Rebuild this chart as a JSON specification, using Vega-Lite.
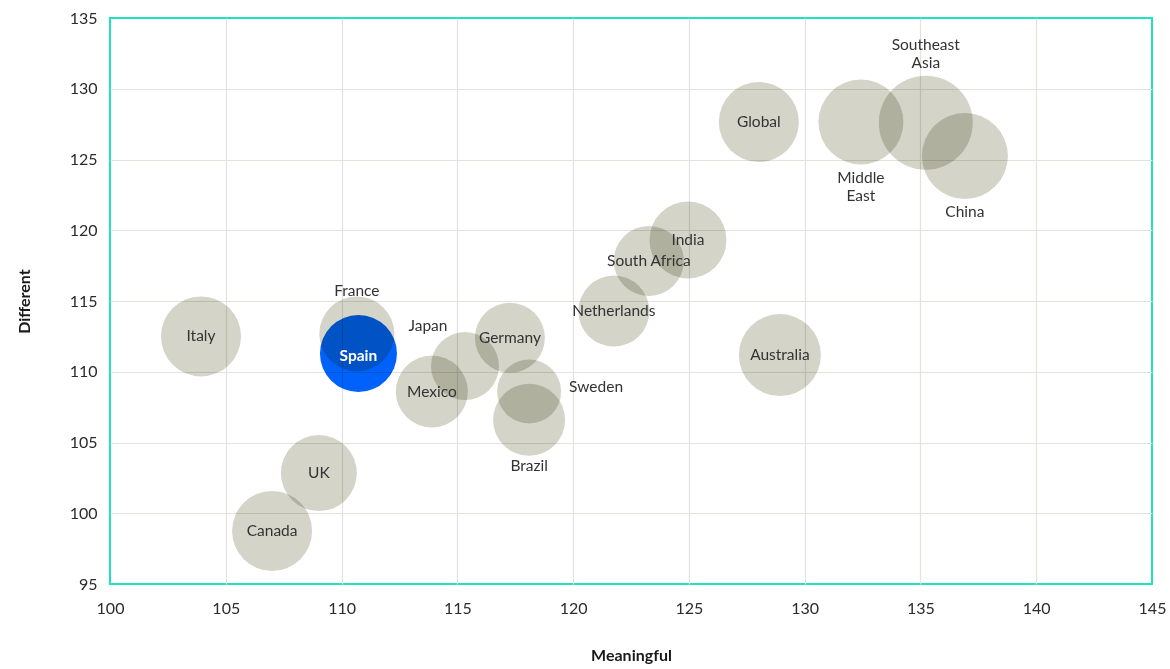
{
  "$schema": "https://vega.github.io/schema/vega-lite/v6.json",
  "width": 1042,
  "height": 566,
  "autosize": {"type": "none"},
  "padding": {"left": 110, "top": 18, "right": 18, "bottom": 85},
  "background": "white",
  "config": {
    "view": {"stroke": "#1fe3bd", "strokeWidth": 2},
    "font": "Lato",
    "axis": {
      "grid": true,
      "gridColor": "#e3e3db",
      "gridWidth": 1.2,
      "domain": false,
      "ticks": false,
      "labelFlush": false,
      "labelFont": "Lato",
      "labelFontSize": 16,
      "labelColor": "#2b2b2b",
      "titleFont": "Lato",
      "titleFontSize": 16,
      "titleFontWeight": "bold",
      "titleColor": "#1a1a1a"
    }
  },
  "data": {
    "values": [
      {"Country": "Italy", "Meaningful": 103.93, "Different": 112.5, "Bubble": 80},
      {"Country": "France", "Meaningful": 110.66, "Different": 112.67, "Bubble": 75},
      {"Country": "Spain", "Meaningful": 110.73, "Different": 111.29, "Bubble": 77},
      {"Country": "Japan", "Meaningful": 115.33, "Different": 110.4, "Bubble": 68},
      {"Country": "Germany", "Meaningful": 117.27, "Different": 112.4, "Bubble": 70},
      {"Country": "Mexico", "Meaningful": 113.9, "Different": 108.6, "Bubble": 72},
      {"Country": "Sweden", "Meaningful": 118.1, "Different": 108.6, "Bubble": 64},
      {"Country": "Brazil", "Meaningful": 118.1, "Different": 106.6, "Bubble": 72},
      {"Country": "UK", "Meaningful": 109.02, "Different": 102.84, "Bubble": 76},
      {"Country": "Canada", "Meaningful": 107.0, "Different": 98.75, "Bubble": 80},
      {"Country": "Global", "Meaningful": 128.02, "Different": 127.65, "Bubble": 80},
      {"Country": "Middle East", "Meaningful": 132.43, "Different": 127.65, "Bubble": 85},
      {"Country": "Southeast Asia", "Meaningful": 135.23, "Different": 127.6, "Bubble": 94},
      {"Country": "China", "Meaningful": 136.92, "Different": 125.25, "Bubble": 86},
      {"Country": "India", "Meaningful": 124.96, "Different": 119.31, "Bubble": 77},
      {"Country": "South Africa", "Meaningful": 123.27, "Different": 117.83, "Bubble": 70},
      {"Country": "Netherlands", "Meaningful": 121.76, "Different": 114.29, "Bubble": 71},
      {"Country": "Australia", "Meaningful": 128.93, "Different": 111.18, "Bubble": 82}
    ]
  },
  "encoding": {
    "x": {
      "field": "Meaningful", "type": "quantitative",
      "scale": {"domain": [100, 145], "nice": false, "zero": false},
      "axis": {
        "values": [100, 105, 110, 115, 120, 125, 130, 135, 140, 145],
        "labelPadding": 16, "titlePadding": 31,
        "gridOpacity": {"condition": {"test": "datum.value === 100 || datum.value === 145", "value": 0}, "value": 1}
      }
    },
    "y": {
      "field": "Different", "type": "quantitative",
      "scale": {"domain": [95, 135], "nice": false, "zero": false},
      "axis": {
        "values": [95, 100, 105, 110, 115, 120, 125, 130, 135],
        "labelPadding": 13, "titlePadding": 37,
        "gridOpacity": {"condition": {"test": "datum.value === 95 || datum.value === 135", "value": 0}, "value": 1}
      }
    }
  },
  "layer": [
    {
      "mark": {"type": "circle", "opacity": 1, "blend": "multiply"},
      "encoding": {
        "size": {"field": "Bubble", "type": "quantitative", "scale": {"type": "pow", "exponent": 2, "domain": [0, 100], "range": [0, 10000]}, "legend": null},
        "color": {
          "condition": {"test": "datum.Country === 'Spain'", "value": "#0062fa"},
          "value": "#d4d4c9"
        }
      }
    },
    {
      "transform": [{"filter": {"field": "Country", "oneOf": ["Italy", "Global", "India", "South Africa", "Netherlands", "Germany", "Mexico", "UK", "Canada", "Australia"]}}],
      "mark": {"type": "text", "fontSize": 15.5, "color": "#333333", "align": "center", "baseline": "middle"},
      "encoding": {"text": {"field": "Country"}}
    },
    {
      "transform": [{"filter": {"field": "Country", "equal": "Spain"}}],
      "mark": {"type": "text", "fontSize": 15.5, "fontWeight": "bold", "color": "white", "align": "center", "baseline": "middle", "dy": 3},
      "encoding": {"text": {"field": "Country"}}
    },
    {
      "transform": [{"filter": {"field": "Country", "equal": "France"}}],
      "mark": {"type": "text", "fontSize": 15.5, "color": "#333333", "align": "center", "baseline": "middle", "dy": -43},
      "encoding": {"text": {"field": "Country"}}
    },
    {
      "transform": [{"filter": {"field": "Country", "equal": "Southeast Asia"}}],
      "mark": {"type": "text", "fontSize": 15.5, "color": "#333333", "align": "center", "baseline": "middle", "dy": -78, "lineBreak": " ", "lineHeight": 18},
      "encoding": {"text": {"field": "Country"}}
    },
    {
      "transform": [{"filter": {"field": "Country", "oneOf": ["Middle East", "China"]}}],
      "mark": {"type": "text", "fontSize": 15.5, "color": "#333333", "align": "center", "baseline": "middle", "dy": 56, "lineBreak": " ", "lineHeight": 18},
      "encoding": {"text": {"field": "Country"}}
    },
    {
      "transform": [{"filter": {"field": "Country", "equal": "Brazil"}}],
      "mark": {"type": "text", "fontSize": 15.5, "color": "#333333", "align": "center", "baseline": "middle", "dy": 46},
      "encoding": {"text": {"field": "Country"}}
    },
    {
      "transform": [{"filter": {"field": "Country", "equal": "Sweden"}}],
      "mark": {"type": "text", "fontSize": 15.5, "color": "#333333", "align": "left", "baseline": "middle", "dx": 40, "dy": -5},
      "encoding": {"text": {"field": "Country"}}
    },
    {
      "transform": [{"filter": {"field": "Country", "equal": "Japan"}}],
      "mark": {"type": "text", "fontSize": 15.5, "color": "#333333", "align": "center", "baseline": "middle", "dx": -37, "dy": -40},
      "encoding": {"text": {"field": "Country"}}
    }
  ]
}
